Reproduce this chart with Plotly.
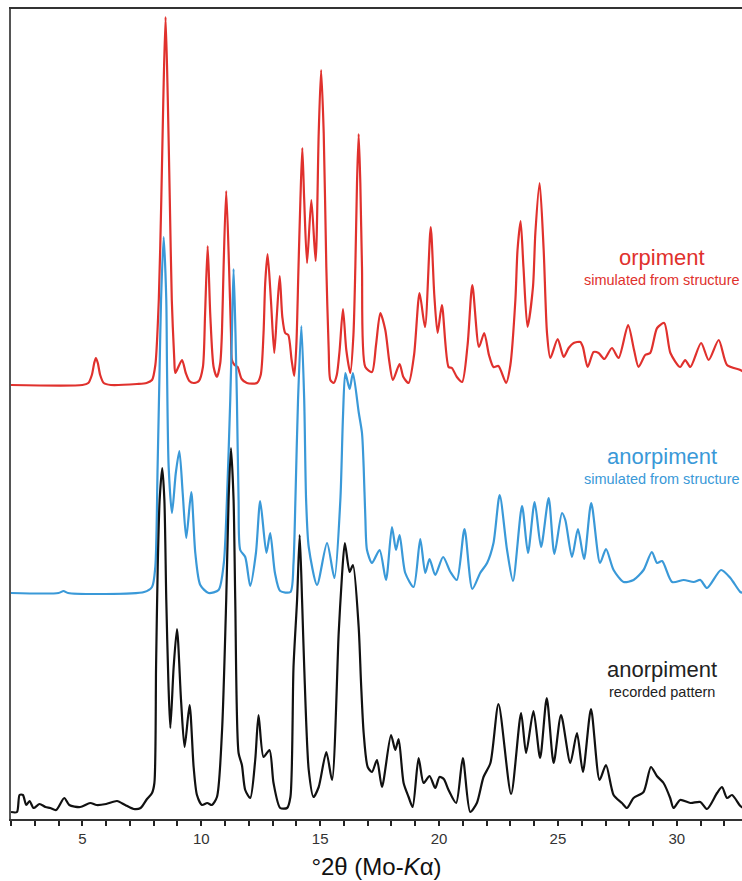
import plotly.graph_objects as go

# ---------------- data ----------------
x_range = [2, 32.74]
tick_values = list(range(2, 33))
tick_labels = [str(v) if v % 5 == 0 else "" for v in tick_values]

# orpiment, simulated from structure (intensity above its own baseline)
orp_x = [2.0, 5.0, 5.25, 5.4, 5.5, 5.57, 5.65, 5.75, 5.9, 6.2, 7.3, 7.7, 7.93, 8.07, 8.215, 8.32, 8.405, 8.50,
         8.594, 8.678, 8.762, 8.867, 8.91, 9.19, 9.35, 9.5, 9.68, 9.9, 10.07, 10.16, 10.27, 10.38, 10.52, 10.66,
         10.8, 10.87, 10.94, 11.05, 11.17, 11.25, 11.29, 11.4, 11.53, 11.7, 11.92, 12.34, 12.5, 12.62, 12.69,
         12.79, 12.93, 13.07, 13.18, 13.30, 13.41, 13.53, 13.66, 13.80, 13.91, 14.0, 14.09, 14.17, 14.25, 14.33,
         14.45, 14.63, 14.81, 14.94, 15.04, 15.15, 15.26, 15.36, 15.43, 15.57, 15.7, 15.82, 15.96, 16.10, 16.27,
         16.40, 16.48, 16.55, 16.62, 16.69, 16.76, 16.90, 17.18, 17.35, 17.53, 17.74, 17.9, 18.06, 18.34, 18.5,
         18.72, 18.95, 19.18, 19.41, 19.65, 19.8, 19.94, 20.12, 20.40, 20.54, 20.75, 20.97, 21.2, 21.40, 21.68,
         21.90, 22.1, 22.29, 22.50, 22.82, 23.0, 23.21, 23.30, 23.43, 23.55, 23.72, 23.95, 24.05, 24.23, 24.40,
         24.54, 24.68, 24.99, 25.24, 25.45, 25.66, 25.94, 26.05, 26.25, 26.50, 26.71, 26.95, 27.27, 27.55, 27.95,
         28.2, 28.39, 28.67, 28.88, 29.17, 29.47, 29.73, 30.14, 30.35, 30.57, 31.02, 31.34, 31.76, 32.11, 32.67,
         32.8]
orp_y = [0, 0, 2, 10, 22, 27, 22, 10, 2, 0, 1, 2, 5, 20, 85, 185, 285, 368,
         285, 185, 85, 25, 12, 25, 12, 4, 2, 4, 18, 70, 139, 70, 18, 8,
         22, 52, 118, 194, 118, 52, 25, 20, 18, 6, 2, 2, 10, 52, 102,
         131, 85, 32, 70, 109, 68, 52, 50, 25, 9, 40, 118, 185, 237, 185,
         122, 185, 124, 252, 315, 252, 118, 35, 5, 2, 10, 35, 76, 35, 12,
         50, 118, 202, 251, 202, 118, 18, 13, 40, 72, 55, 25, 5, 21, 8,
         2, 30, 92, 58, 158, 90, 52, 80, 18, 17, 8, 3, 40, 100, 38,
         52, 30, 18, 19, 2, 20, 85, 135, 164, 118, 58, 98, 152, 202, 135,
         52, 27, 46, 28, 37, 42, 43, 38, 18, 33, 32, 26, 37, 27, 60,
         35, 18, 30, 32, 57, 62, 32, 18, 25, 18, 42, 25, 45, 20, 15,
         13]

# anorpiment, simulated from structure
ano_x = [2.0, 4.0, 4.21, 4.4, 7.6, 7.93, 8.068, 8.165, 8.25, 8.31, 8.42, 8.53, 8.56, 8.63, 8.77, 8.93, 9.08,
         9.22, 9.37, 9.58, 9.75, 9.96, 10.31, 10.73, 10.95, 11.08, 11.22, 11.29, 11.36, 11.44, 11.50, 11.57,
         11.64, 11.85, 12.06, 12.3, 12.48, 12.74, 12.90, 13.1, 13.32, 13.75, 13.88, 13.96, 14.07, 14.21, 14.33,
         14.41, 14.52, 14.87, 15.29, 15.60, 15.85, 15.96, 16.06, 16.24, 16.38, 16.62, 16.76, 16.83, 16.90,
         16.97, 17.18, 17.50, 17.77, 18.02, 18.19, 18.34, 18.58, 18.93, 19.21, 19.42, 19.60, 19.84, 20.17,
         20.48, 20.75, 21.07, 21.40, 21.73, 22.02, 22.29, 22.55, 22.86, 23.11, 23.49, 23.74, 24.02, 24.29,
         24.61, 24.85, 25.17, 25.31, 25.59, 25.84, 26.10, 26.40, 26.77, 27.02, 27.34, 27.76, 28.18, 28.60,
         28.95, 29.17, 29.38, 29.80, 30.29, 30.71, 30.99, 31.27, 31.86, 32.25, 32.67, 32.8]
ano_y = [0, 0, 2, 0, 1, 6, 26, 126, 226, 293, 356, 293, 226, 126, 80, 120, 142,
         100, 55, 101, 40, 8, 0, 3, 30, 93, 193, 260, 324, 260, 193, 93,
         43, 36, 7, 40, 92, 40, 60, 20, 2, 1, 30, 93, 193, 267, 193,
         93, 46, 8, 50, 15, 93, 176, 220, 204, 220, 181, 160, 126, 76,
         43, 30, 43, 13, 66, 43, 58, 20, 6, 54, 20, 34, 18, 36,
         21, 13, 64, 4, 20, 30, 50, 98, 43, 12, 87, 40, 91, 46,
         95, 39, 80, 73, 36, 64, 34, 90, 30, 44, 23, 11, 13, 23,
         41, 30, 32, 11, 13, 11, 13, 5, 23, 15, 1, 0]

# anorpiment, recorded pattern
rec_x = [2.0, 2.25, 2.36, 2.50, 2.64, 2.78, 2.95, 3.2, 3.45, 3.65, 3.9, 4.24, 4.45, 4.91, 5.33, 5.6, 6.0, 6.46,
         6.8, 7.16, 7.45, 7.72, 7.93, 8.03, 8.10, 8.17, 8.25, 8.36, 8.45, 8.53, 8.62, 8.70, 8.84, 8.98, 9.15,
         9.30, 9.51, 9.68, 9.82, 10.03, 10.25, 10.45, 10.66, 10.87, 11.05, 11.15, 11.25, 11.36, 11.43, 11.57,
         11.71, 11.85, 12.06, 12.27, 12.41, 12.62, 12.87, 13.04, 13.32, 13.61, 13.75, 13.88, 14.03, 14.14,
         14.24, 14.33, 14.52, 14.72, 14.94, 15.26, 15.50, 15.78, 15.92, 16.04, 16.24, 16.38, 16.62, 16.72,
         16.83, 17.00, 17.18, 17.39, 17.60, 17.98, 18.16, 18.30, 18.51, 18.72, 18.89, 19.14, 19.35, 19.60,
         19.84, 20.02, 20.2, 20.40, 20.72, 21.00, 21.31, 21.59, 21.87, 22.16, 22.50, 23.03, 23.45, 23.66,
         23.97, 24.25, 24.53, 24.82, 25.13, 25.52, 25.80, 26.05, 26.39, 26.75, 27.02, 27.34, 27.69, 27.90,
         28.18, 28.60, 28.91, 29.16, 29.44, 29.72, 29.86, 30.14, 30.57, 30.99, 31.27, 31.69, 31.90, 32.11,
         32.32, 32.67, 32.8]
rec_y = [0, 0, 17, 17, 7, 11, 4, 8, 5, 4, 2, 14, 7, 5, 9, 7, 8, 11,
         7, 3, 4, 13, 19, 29, 145, 245, 312, 344, 312, 212, 129, 84, 145, 183, 112,
         65, 107, 45, 17, 7, 9, 7, 15, 79, 212, 312, 364, 312, 212, 59,
         47, 22, 14, 52, 97, 55, 62, 29, 4, 4, 15, 145, 212, 277,
         212, 145, 42, 15, 25, 60, 32, 179, 237, 269, 240, 247, 185, 129,
         79, 45, 40, 52, 25, 77, 62, 73, 29, 15, 5, 54, 29, 36,
         24, 35, 33, 22, 9, 54, 0, 9, 35, 49, 108, 18, 99, 59,
         101, 54, 114, 49, 97, 49, 79, 40, 103, 32, 47, 17, 9, 4,
         14, 20, 45, 36, 29, 14, 4, 12, 9, 10, 3, 19, 25, 14,
         17, 6, 4]

series_names = ["orpiment", "anorpiment", "anorpiment"]
series_subtitles = ["simulated from structure", "simulated from structure", "recorded pattern"]
series_offsets = [434, 226, 7]          # vertical stacking offsets
series_label_y = [548, 349, 136]        # boundary between label and sub-label (y, in the offset scale)
label_x = 29.37

# ---------------- figure ----------------
FONT = "Liberation Sans, Arial, sans-serif"
colors = ["#E0312D", "#3A99D8", "#111111"]
text_colors = ["#E0312D", "#3A99D8", "#222222"]
xs = [orp_x, ano_x, rec_x]
ys = [orp_y, ano_y, rec_y]

fig = go.Figure()
for i in range(3):
    fig.add_trace(go.Scatter(
        x=xs[i], y=[v + series_offsets[i] for v in ys[i]],
        mode="lines", line=dict(color=colors[i], width=2.2, shape="spline", smoothing=0.7),
        showlegend=False, hoverinfo="skip"))
    fig.add_annotation(x=label_x, y=series_label_y[i], xref="x", yref="y",
                       text=series_names[i], showarrow=False, xanchor="center", yanchor="bottom",
                       borderpad=0, font=dict(family=FONT, size=22, color=text_colors[i]))
    fig.add_annotation(x=label_x, y=series_label_y[i], xref="x", yref="y",
                       text=series_subtitles[i], showarrow=False, xanchor="center", yanchor="top",
                       borderpad=0, font=dict(family=FONT, size=14.5, color=text_colors[i]))

fig.update_layout(
    width=742, height=881,
    margin=dict(l=11, r=0, t=9, b=62),
    paper_bgcolor="white", plot_bgcolor="white",
    font=dict(family=FONT, color="#333333"),
    xaxis=dict(range=x_range, tickmode="array", tickvals=tick_values, ticktext=tick_labels,
               ticks="outside", ticklen=5, tickwidth=1.5, tickcolor="#222222",
               showline=True, linecolor="#333333", linewidth=2, mirror=True,
               showgrid=False, zeroline=False, tickfont=dict(size=15, color="#333333"),
               title=dict(text="°2θ (Mo-<i>K</i>α)", font=dict(size=24, color="#111111"), standoff=12)),
    yaxis=dict(range=[0, 810], showticklabels=False, ticks="", showgrid=False, zeroline=False,
               showline=True, linecolor="#555555", linewidth=2, mirror=False),
)

fig.write_html("out.html", config={"displayModeBar": False},
               post_script="document.body.style.margin='0px';document.body.style.overflow='hidden';")
